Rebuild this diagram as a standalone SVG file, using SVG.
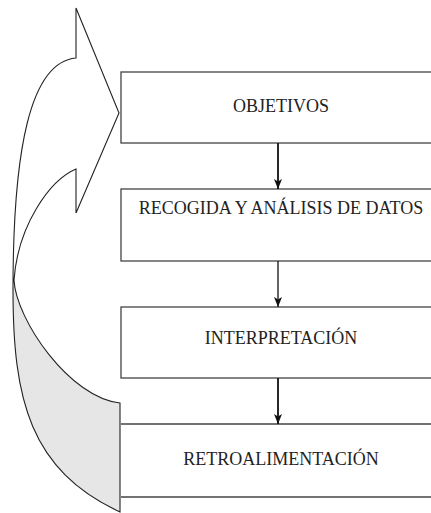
<svg xmlns="http://www.w3.org/2000/svg" width="431" height="513" viewBox="0 0 431 513">
<defs>
<marker id="ah" markerWidth="10" markerHeight="8" refX="10" refY="4" orient="auto" markerUnits="userSpaceOnUse" viewBox="0 0 10 8">
<path d="M0,0 L2.5,4 L0,8 L10,4 Z" fill="#111"/>
</marker>
<style>
.box{fill:#fff;stroke:#444;stroke-width:1.3}
.ln{fill:none;stroke:#444;stroke-width:1.3}
.lbl{font-family:"Liberation Serif","Times New Roman",serif;font-size:18px;fill:#222;text-anchor:middle}
.conn{fill:none;stroke:#111;stroke-width:1.8}
.shape{fill:none;stroke:#222;stroke-width:1.1;stroke-linejoin:miter}
</style>
</defs>
<rect width="431" height="513" fill="#fff"/>
<g id="feedback-arrow">
<path d="M14,280 C16,320 70,398 120,403 L120,512 C30,470 13,400 13,290 Z" fill="#e6e6e6" stroke="none"/>
<path class="shape" d="M76,58 L76,8 L119,113 L76,213 L76,169 C50,180 18,225 14,280 C16,320 70,398 120,403 L120,512 C30,470 13,400 13,290 C13,150 30,62 76,58 Z"/>
</g>
<g id="objetivos">
<rect class="box" x="121" y="72" width="400" height="71"/>
<text class="lbl" x="281" y="112">OBJETIVOS</text>
</g>
<g id="recogida">
<rect class="box" x="121" y="189" width="400" height="72"/>
<text class="lbl" x="281" y="214">RECOGIDA Y ANÁLISIS DE DATOS</text>
</g>
<g id="interpretacion">
<rect class="box" x="121" y="307" width="400" height="71"/>
<text class="lbl" x="281" y="344">INTERPRETACIÓN</text>
</g>
<g id="retroalimentacion">
<path class="ln" d="M121,424 L440,424 M121,497 L440,497"/>
<text class="lbl" x="281" y="465">RETROALIMENTACIÓN</text>
</g>
<g id="connectors">
<line class="conn" x1="278" y1="143" x2="278" y2="189" marker-end="url(#ah)"/>
<line class="conn" x1="278" y1="261" x2="278" y2="307" marker-end="url(#ah)" style="stroke-width:1.3"/>
<line class="conn" x1="278" y1="378" x2="278" y2="424" marker-end="url(#ah)"/>
</g>
</svg>
